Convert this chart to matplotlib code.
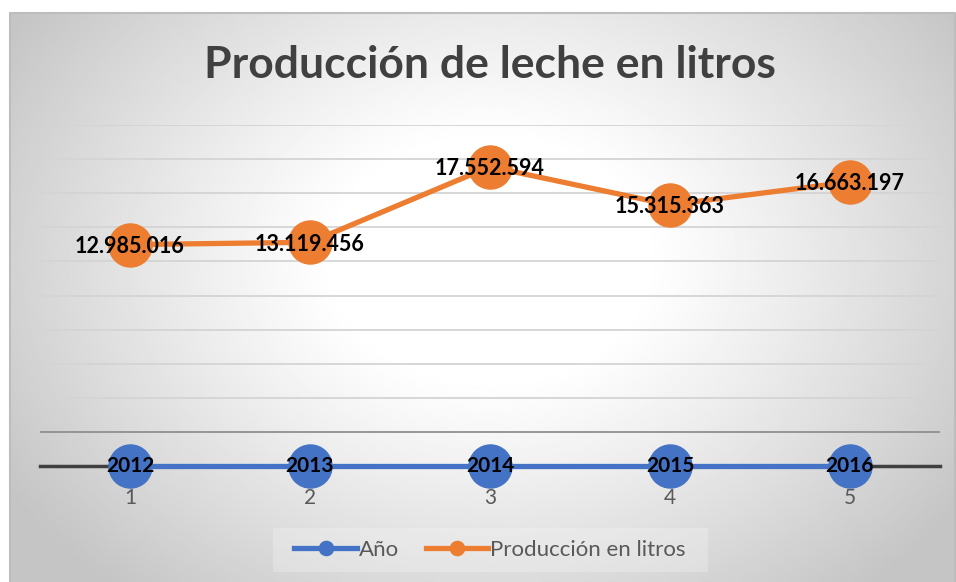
import numpy as np
import matplotlib
matplotlib.use("Agg")
import matplotlib.pyplot as plt

plt.rcParams['font.family'] = ['Lato', 'DejaVu Sans']

# data
posiciones = [1, 2, 3, 4, 5]
anios = [2012, 2013, 2014, 2015, 2016]
produccion = [12985016, 13119456, 17552594, 15315363, 16663197]
etiquetas_prod = ['12.985.016', '13.119.456', '17.552.594', '15.315.363', '16.663.197']

W, H = 956, 582
fig = plt.figure(figsize=(W / 100, H / 100), dpi=100)

# background with radial gradient (chart area)
bg = fig.add_axes([0, 0, 1, 1])
bg.set_xlim(0, W)
bg.set_ylim(H, 0)
bg.axis('off')
xx, yy = np.meshgrid(np.linspace(10, W, 400), np.linspace(13, H, 250))
d = np.sqrt(((xx - 490) / 520) ** 2 + ((yy - 260) / 400) ** 2)
v = 1 - 0.23 * np.clip((d - 0.3) / 0.8, 0, 1) ** 1.1
bg.imshow(v, cmap='gray', vmin=0, vmax=1, extent=[10, W, H, 13], aspect='auto', zorder=0)
bg.plot([10, 10, W - 1, W - 1], [H, 13, 13, H], color='#bdbdbd', lw=1.5, zorder=1)
# legend backing box
bg.add_patch(plt.Rectangle((273, 528), 435, 44, color='#f6f6f6', alpha=0.3, lw=0, zorder=1))

ax = fig.add_axes([40 / W, 1 - 466 / H, 900 / W, 341 / H])
ax.patch.set_alpha(0)
ax.set_xlim(0.5, 5.5)
ax.set_ylim(0, 20e6)
ax.set_yticks(np.arange(0, 20e6 + 1, 2e6))
ax.yaxis.grid(True, color='#d4d4d4', lw=1.3)
ax.get_ygridlines()[1].set_color('#8f8f8f')
ax.tick_params(axis='y', left=False, labelleft=False)
ax.set_xticks(posiciones)
ax.tick_params(axis='x', bottom=False, labelsize=15, labelcolor='#595959', pad=12)
for s in ['top', 'right', 'left']:
    ax.spines[s].set_visible(False)
ax.spines['bottom'].set_color('#404040')
ax.spines['bottom'].set_linewidth(2.5)
ax.spines['bottom'].set_zorder(2)

ax.plot(posiciones, anios, color='#4472c4', lw=3.8, marker='o', ms=31,
        label='Año', clip_on=False, zorder=3)
ax.plot(posiciones, produccion, color='#ed7d31', lw=3.8, marker='o', ms=31,
        label='Producción en litros', clip_on=False, zorder=3)

for x, a in zip(posiciones, anios):
    ax.text(x, a, str(a), ha='center', va='center', fontsize=15,
            fontweight='bold', color='black', zorder=5)
for x, p, t in zip(posiciones, produccion, etiquetas_prod):
    ax.text(x, p - 0.1e6, t, ha='center', va='center', fontsize=15.5,
            fontweight='bold', color='black', zorder=5)

fig.text(490 / W, 1 - 65 / H, 'Producción de leche en litros', ha='center', va='center',
         fontsize=32, fontweight='bold', color='#404040')

leg = fig.legend(loc='center', bbox_to_anchor=(490 / W, 1 - 550 / H), ncol=2,
                 frameon=False, fontsize=16, handlelength=2.8, markerscale=0.33,
                 columnspacing=1.2, handletextpad=0.1)
for t in leg.get_texts():
    t.set_color('#595959')

fig.savefig('out.png', dpi=100)
